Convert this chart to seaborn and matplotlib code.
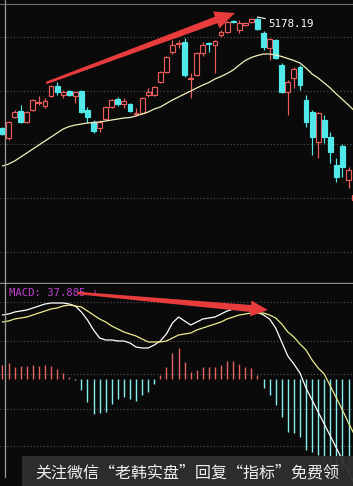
import numpy as np
import pandas as pd
import matplotlib
matplotlib.use("Agg")
import matplotlib.pyplot as plt
import seaborn as sns
from matplotlib.patches import Polygon, Rectangle
from matplotlib.lines import Line2D
from matplotlib.transforms import IdentityTransform

# ---------------- data ----------------
opens = [4068, 3968, 4178, 4238, 4128, 4248, 4323, 4288, 4388, 4488,
         4398, 4438, 4388, 4438, 4248, 4128, 4068, 4158, 4278, 4358,
         4308, 4308, 4213, 4218, 4398, 4398, 4528, 4628, 4828, 4913,
         4928, 4563, 4598, 4818, 4918, 4898, 4998, 5028, 5138, 5048,
         5098, 5128, 5158, 5018, 4868, 4948, 4698, 4428, 4568, 4678,
         4348, 4228, 3928, 4148, 3978, 3698, 3888, 3548, 3348]
closes = [4008, 4128, 4228, 4128, 4228, 4348, 4333, 4338, 4488, 4428,
          4428, 4398, 4428, 4228, 4178, 4038, 4128, 4278, 4348, 4308,
          4338, 4238, 4223, 4368, 4428, 4478, 4628, 4778, 4898, 4923,
          4598, 4573, 4818, 4898, 4908, 4938, 5028, 5128, 5128, 5118,
          5118, 5158, 5058, 4878, 4958, 4768, 4428, 4528, 4658, 4498,
          4128, 3978, 4218, 3978, 3828, 3578, 3678, 3648, 3398]
highs = [4078, 4138, 4248, 4298, 4238, 4358, 4388, 4368, 4498, 4528,
         4448, 4448, 4438, 4448, 4278, 4148, 4148, 4288, 4358, 4378,
         4368, 4318, 4268, 4378, 4468, 4488, 4638, 4788, 4948, 4948,
         4968, 4618, 4828, 4928, 4928, 4948, 5048, 5138, 5148, 5148,
         5128, 5168, 5178.19, 5038, 4968, 4958, 4718, 4548, 4678, 4698,
         4398, 4248, 4228, 4198, 4028, 3768, 3908, 3678, 3418]
lows = [3998, 3948, 4168, 4118, 4118, 4238, 4298, 4268, 4378, 4398,
        4368, 4388, 4318, 4218, 4118, 4018, 4028, 4148, 4268, 4288,
        4268, 4228, 4198, 4208, 4378, 4388, 4518, 4618, 4808, 4868,
        4578, 4368, 4588, 4788, 4828, 4618, 4978, 5018, 5118, 5018,
        5088, 5118, 5048, 4848, 4748, 4758, 4418, 4198, 4468, 4448,
        4078, 3798, 3768, 3918, 3718, 3528, 3578, 3468, 3328]
ma = [3688, 3708, 3738, 3778, 3818, 3858, 3898, 3938, 3978, 4018,
      4058, 4083, 4098, 4108, 4118, 4123, 4128, 4138, 4148, 4158,
      4168, 4173, 4188, 4208, 4228, 4258, 4278, 4313, 4348, 4378,
      4408, 4438, 4468, 4498, 4523, 4558, 4583, 4613, 4648, 4698,
      4743, 4773, 4793, 4808, 4808, 4798, 4783, 4763, 4743, 4718,
      4668, 4608, 4568, 4518, 4468, 4408, 4353, 4298, 4238]
dif = [128, 130, 134, 136, 138, 142, 146, 150, 152, 152,
       152, 150, 146, 134, 118, 98, 82, 78, 78, 76,
       76, 72, 64, 62, 62, 68, 76, 90, 112, 124,
       116, 108, 114, 120, 122, 124, 130, 136, 140, 142,
       140, 138, 134, 128, 120, 102, 74, 46, 30, 12,
       -18, -42, -66, -90, -114, -138, -162, -186, -210]
dea = [114, 116, 120, 122, 124, 128, 132, 136, 140, 142,
       146, 148, 146, 144, 136, 128, 120, 114, 106, 100,
       94, 90, 86, 80, 74, 74, 74, 76, 82, 88,
       90, 92, 98, 102, 106, 110, 114, 120, 124, 128,
       130, 132, 132, 132, 128, 122, 110, 94, 84, 70,
       58, 38, 22, 10, -14, -38, -62, -88, -112]
macd = [28, 32, 24, 26, 26, 28, 26, 28, 26, 20,
        12, 4, -2, -22, -46, -70, -68, -66, -50, -40,
        -36, -40, -44, -32, -26, -10, 8, 24, 52, 62,
        34, 14, 18, 24, 24, 24, 28, 36, 36, 30,
        24, 22, 8, -18, -32, -52, -76, -106, -108, -116,
        -142, -146, -152, -160, -170, -176, -180, -184, -190]
peak_label = "5178.19"
macd_label = "MACD: 37.885 \u2193"
watermark = "关注微信“老韩实盘”回复“指标”免费领"

# ---------------- style ----------------
sns.set_theme(style="dark")
plt.rcParams["font.family"] = ["DejaVu Sans"]
BG = "#0a0a0a"
RED = "#ee5c5c"
CYAN = "#50e8e8"
GRID = "#555555"

W, H = 353, 486
fig = plt.figure(figsize=(W / 100, H / 100), dpi=100, facecolor=BG)
ax1 = fig.add_axes([0, 1 - 283 / H, 1, 283 / H])
ax2 = fig.add_axes([0, 0, 1, 202 / H])

n = len(opens)
x = np.arange(n)
df = pd.DataFrame({"x": x, "open": opens, "close": closes, "high": highs,
                   "low": lows, "ma": ma, "dif": dif, "dea": dea, "macd": macd})

for ax in (ax1, ax2):
    ax.set_facecolor(BG)
    ax.set_xticks([])
    ax.set_yticks([])
    ax.grid(False)
    for s in ax.spines.values():
        s.set_visible(False)
    ax.set_xlim(-0.41, 57.74)

ax1.set_ylim(2518, 5348)
ax2.set_ylim(-214, 190)

# dotted grid lines
for v in [4978, 4438, 3908, 3368, 2828]:
    ax1.axhline(v, color=GRID, lw=0.8, ls=(0, (1, 2)), zorder=0)
for v in [154, 76, 10, -60, -134]:
    ax2.axhline(v, color=GRID, lw=0.8, ls=(0, (1, 2)), zorder=0)

# panel separator
ax1.spines["bottom"].set_visible(True)
ax1.spines["bottom"].set_color("#8c8c8c")
ax1.spines["bottom"].set_linewidth(1.0)

# ---------------- candles ----------------
up = df["close"] >= df["open"]
wick_cols = [RED if u else CYAN for u in up]
ax1.vlines(df["x"], df["low"], df["high"], colors=wick_cols, lw=0.85, zorder=2)
du = df[up]
dd = df[~up]
ax1.bar(du["x"], (du["close"] - du["open"]).clip(lower=8), bottom=du["open"],
        width=0.8, facecolor=BG, edgecolor=RED, lw=0.85, zorder=3)
ax1.bar(dd["x"], (dd["open"] - dd["close"]).clip(lower=8), bottom=dd["close"],
        width=0.8, facecolor=CYAN, edgecolor=CYAN, lw=0.85, zorder=3)

sns.lineplot(data=df, x="x", y="ma", ax=ax1, color="#f3f0b8", lw=0.9, zorder=4)

# peak label
pk = int(np.argmax(highs))
ax1.annotate(peak_label, xy=(pk, highs[pk]), xytext=(8, -5), textcoords="offset points",
             color="white", fontsize=7.8, family="DejaVu Sans Mono", ha="left", va="center",
             arrowprops=dict(arrowstyle="-", color="white", lw=0.8, shrinkA=0, shrinkB=0),
             zorder=7)

# ---------------- MACD ----------------
hist_cols = ["#e06464" if v >= 0 else "#86eeee" for v in df["macd"]]
ax2.vlines(df["x"], 0, df["macd"], colors=hist_cols, lw=1.0, zorder=2)
sns.lineplot(data=df, x="x", y="dif", ax=ax2, color="#ffffff", lw=0.9, zorder=4)
sns.lineplot(data=df, x="x", y="dea", ax=ax2, color="#eeeb8c", lw=0.9, zorder=4)
for ax in (ax1, ax2):
    ax.set_xlabel("")
    ax.set_ylabel("")

fig.text(9 / W, 1 - 293 / H, macd_label, color="#c23fcf", fontsize=7.6,
         family="DejaVu Sans Mono", va="center", ha="left")


# ---------------- red arrows (display-space polygons) ----------------
def tapered_arrow(ax, p0, p1, w0, w1, head_len, head_w, color):
    fig.canvas.draw()
    t = ax.transData
    a = np.array(t.transform(p0))
    b = np.array(t.transform(p1))
    d = b - a
    u = d / np.hypot(*d)
    nv = np.array([-u[1], u[0]])
    base = b - u * head_len
    pts = [a + nv * w0 / 2, base + nv * w1 / 2, base + nv * head_w / 2, b,
           base - nv * head_w / 2, base - nv * w1 / 2, a - nv * w0 / 2]
    poly = Polygon(pts, closed=True, transform=IdentityTransform(),
                   facecolor=color, edgecolor="none", zorder=20)
    fig.add_artist(poly)


tapered_arrow(ax1, (7.2, 4518), (38.3, 5218), 2.5, 7.0, 20, 18, "#e83c3c")
tapered_arrow(ax2, (12.4, 172), (43.7, 138), 2.5, 7.0, 17, 16, "#e83c3c")

# border lines
fig.add_artist(Line2D([4.5 / W, 4.5 / W], [1 - 477 / H, 1], transform=fig.transFigure,
                      color="#9a9a9a", lw=0.9, zorder=15))
fig.add_artist(Line2D([0, 1], [1 - 4.5 / H, 1 - 4.5 / H], transform=fig.transFigure,
                      color="#707070", lw=0.8, zorder=15))

# watermark band
fig.add_artist(Rectangle((22 / W, 0), (W - 22) / W, 30 / H, transform=fig.transFigure,
                         facecolor="#2e2e2e", edgecolor="none", alpha=0.95, zorder=25))
fig.text(187.5 / W, 13 / H, watermark, color="#f0f0f0", fontsize=11.5,
         family=["Noto Sans CJK SC", "DejaVu Sans"], ha="center", va="center", zorder=26)

fig.savefig("out.png", dpi=100, facecolor=BG)
